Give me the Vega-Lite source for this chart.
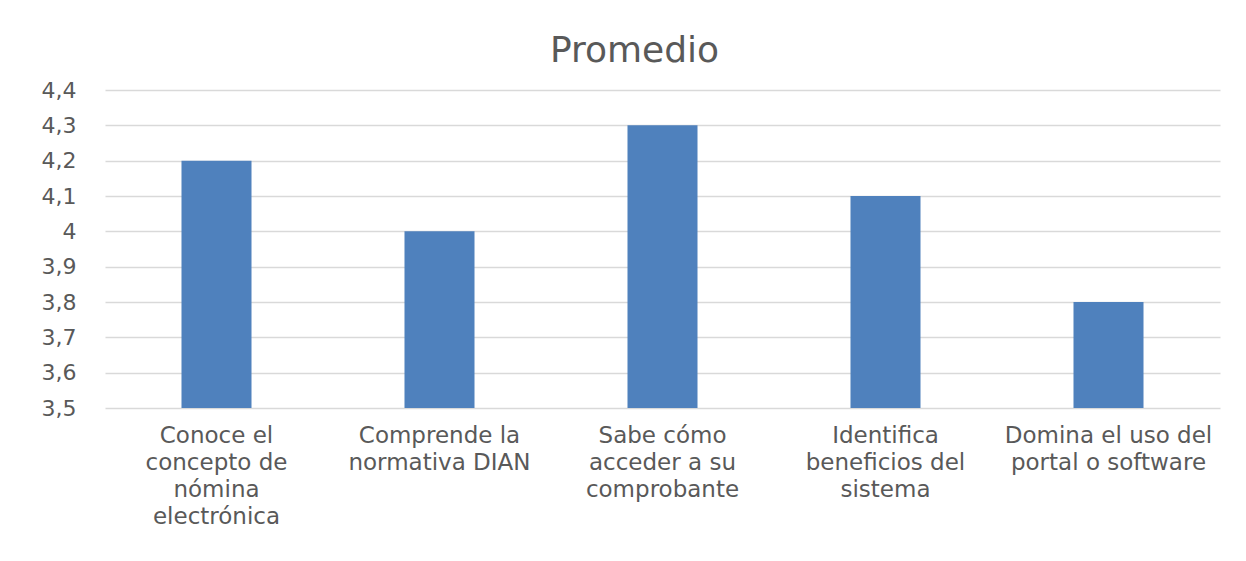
{
  "$schema": "https://vega.github.io/schema/vega-lite/v6.json",
  "autosize": "none",
  "padding": {"left": 105, "top": 90, "right": 26, "bottom": 153},
  "width": 1115,
  "height": 318,
  "background": "white",
  "title": {
    "text": "Promedio",
    "fontSize": 36,
    "font": "DejaVu Sans",
    "fontWeight": "normal",
    "color": "#595959",
    "offset": 9,
    "dx": -28
  },
  "data": {
    "values": [
      {"pregunta": "Conoce el concepto de nómina electrónica", "promedio": 4.2},
      {"pregunta": "Comprende la normativa DIAN", "promedio": 4.0},
      {"pregunta": "Sabe cómo acceder a su comprobante", "promedio": 4.3},
      {"pregunta": "Identifica beneficios del sistema", "promedio": 4.1},
      {"pregunta": "Domina el uso del portal o software", "promedio": 3.8}
    ]
  },
  "mark": {"type": "bar", "color": "#4F81BD", "clip": true},
  "encoding": {
    "x": {
      "field": "pregunta",
      "type": "nominal",
      "sort": null,
      "scale": {"paddingInner": 0.686, "paddingOuter": 0.343},
      "axis": {
        "title": null,
        "labelAngle": 0,
        "domain": false,
        "ticks": false,
        "labelFont": "DejaVu Sans",
        "labelFontSize": 23,
        "labelColor": "#595959",
        "labelPadding": 16,
        "labelLineHeight": 27,
        "labelLimit": 300,
        "labelExpr": "{'Conoce el concepto de nómina electrónica': ['Conoce el', 'concepto de', 'nómina', 'electrónica'], 'Comprende la normativa DIAN': ['Comprende la', 'normativa DIAN'], 'Sabe cómo acceder a su comprobante': ['Sabe cómo', 'acceder a su', 'comprobante'], 'Identifica beneficios del sistema': ['Identifica', 'beneficios del', 'sistema'], 'Domina el uso del portal o software': ['Domina el uso del', 'portal o software']}[datum.label]"
      }
    },
    "y": {
      "field": "promedio",
      "type": "quantitative",
      "scale": {"domain": [3.5, 4.4], "nice": false, "zero": false},
      "axis": {
        "title": null,
        "domain": false,
        "ticks": false,
        "values": [3.5, 3.6, 3.7, 3.8, 3.9, 4.0, 4.1, 4.2, 4.3, 4.4],
        "labelFont": "DejaVu Sans",
        "labelFontSize": 22,
        "labelColor": "#595959",
        "labelPadding": 29,
        "gridColor": "#D9D9D9",
        "gridWidth": 1.5,
        "labelExpr": "replace(format(datum.value, '.2~g'), '.', ',')"
      }
    }
  },
  "config": {"view": {"stroke": null}}
}
